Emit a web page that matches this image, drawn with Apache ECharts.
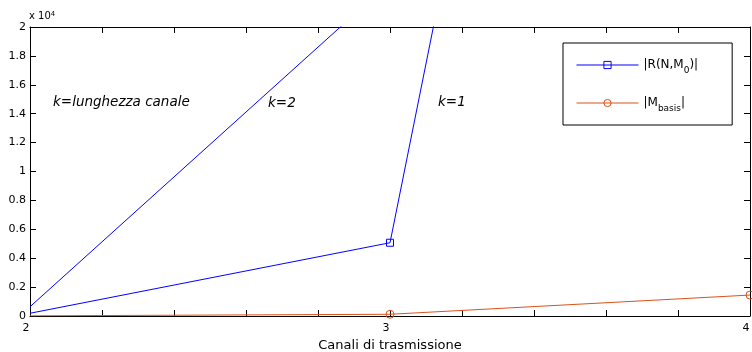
<!DOCTYPE html>
<html>
<head>
<meta charset="utf-8">
<script src="https://cdn.jsdelivr.net/npm/echarts@6/dist/echarts.min.js"></script>
<style>
  html, body { margin: 0; padding: 0; background: #fff; }
  #chart { width: 752px; height: 352px; }
</style>
</head>
<body>
<div id="chart"></div>
<script>
  // values (y in raw units, axis shows x 10^4)
  var xTicks = [2, 3, 4];
  var rK1 = [[2, 190], [3, 5070], [4, 129000]];
  var rK2 = [[2, 640], [3, 23100]];
  var mBasis = [[2, 10], [3, 120], [4, 1450]];
  var markedR = [3];
  var markedM = [3, 4];

  var blue = '#0000ff';
  var red = '#d95319';
  var font = 'DejaVu Sans, sans-serif';

  function withMarks(points, marked) {
    return points.map(function (p) {
      return marked.indexOf(p[0]) >= 0 ? { value: p } : { value: p, symbol: 'none' };
    });
  }

  var chart = echarts.init(document.getElementById('chart'));
  var xCommon = {
    type: 'value', min: 2, max: 4, interval: 0.2,
    axisLine: { onZero: false, lineStyle: { color: '#000', width: 1 } },
    axisTick: { inside: true, length: 6, lineStyle: { color: '#000' } },
    splitLine: { show: false }
  };
  var yCommon = {
    type: 'value', min: 0, max: 20000, interval: 2000,
    axisLine: { show: true, onZero: false, lineStyle: { color: '#000', width: 1 } },
    axisTick: { show: true, inside: true, length: 6, lineStyle: { color: '#000' } },
    splitLine: { show: false }
  };

  chart.setOption({
    animation: false,
    backgroundColor: '#fff',
    grid: { left: 30, right: 2, top: 27, bottom: 36, outerBoundsMode: 'none', containLabel: false },
    xAxis: [
      Object.assign({}, xCommon, {
        position: 'bottom',
        name: 'Canali di trasmissione',
        nameLocation: 'middle',
        nameGap: 20,
        nameTextStyle: { fontFamily: font, fontSize: 13, color: '#000' },
        axisLabel: {
          fontFamily: font, fontSize: 11, color: '#000', margin: 7,
          padding: [0, 8, 0, 0],
          formatter: function (v) {
            var r = Math.round(v);
            return (Math.abs(v - r) < 1e-6 && xTicks.indexOf(r) >= 0) ? String(r) : '';
          }
        }
      }),
      Object.assign({}, xCommon, { position: 'top', axisLabel: { show: false } })
    ],
    yAxis: [
      Object.assign({}, yCommon, {
        position: 'left',
        axisLabel: {
          fontFamily: font, fontSize: 11, color: '#000', margin: 4,
          formatter: function (v) { return String(parseFloat((v / 10000).toFixed(1))); }
        }
      }),
      Object.assign({}, yCommon, { position: 'right', axisLabel: { show: false } })
    ],
    legend: {
      orient: 'vertical',
      left: 563, top: 43,
      padding: [12, 34, 12, 13],
      itemGap: 18,
      itemWidth: 62, itemHeight: 9,
      borderColor: '#000', borderWidth: 1,
      backgroundColor: '#fff',
      lineStyle: { width: 1 },
      itemStyle: { borderWidth: 1 },
      data: ['R', 'M'],
      formatter: function (n) { return n === 'R' ? '|R(N,M{s|0})|' : '|M{s|basis}|'; },
      textStyle: {
        fontFamily: font, fontSize: 12, color: '#000', lineHeight: 20,
        rich: { s: { fontFamily: font, fontSize: 9, color: '#000', lineHeight: 11, verticalAlign: 'bottom' } }
      }
    },
    graphic: [
      { type: 'text', left: 29, top: 11, style: {
        text: 'x 10{p|4}', fontFamily: font, fontSize: 10, fill: '#000',
        rich: { p: { fontFamily: font, fontSize: 7, fill: '#000', verticalAlign: 'top', lineHeight: 8 } } } },
      { type: 'text', left: 53, top: 95, style: { text: 'k=lunghezza canale', fontFamily: font, fontSize: 13.5, fontStyle: 'italic', fill: '#000' } },
      { type: 'text', left: 268, top: 96, style: { text: 'k=2', fontFamily: font, fontSize: 13.5, fontStyle: 'italic', fill: '#000' } },
      { type: 'text', left: 438, top: 95, style: { text: 'k=1', fontFamily: font, fontSize: 13.5, fontStyle: 'italic', fill: '#000' } }
    ],
    series: [
      {
        name: 'R', type: 'line', data: withMarks(rK1, markedR),
        symbol: 'rect', symbolSize: 7, showAllSymbol: true,
        lineStyle: { color: blue, width: 1 },
        itemStyle: { color: 'rgba(0,0,0,0)', borderColor: blue, borderWidth: 1 },
        emphasis: { disabled: true }
      },
      {
        name: 'R', type: 'line', data: withMarks(rK2, markedR),
        symbol: 'rect', symbolSize: 7, showAllSymbol: true,
        lineStyle: { color: blue, width: 1 },
        itemStyle: { color: 'rgba(0,0,0,0)', borderColor: blue, borderWidth: 1 },
        emphasis: { disabled: true }
      },
      {
        name: 'M', type: 'line', data: withMarks(mBasis, markedM),
        symbol: 'circle', symbolSize: 8, showAllSymbol: true,
        lineStyle: { color: red, width: 1 },
        itemStyle: { color: 'rgba(0,0,0,0)', borderColor: red, borderWidth: 1 },
        emphasis: { disabled: true }
      }
    ]
  });
</script>
</body>
</html>
